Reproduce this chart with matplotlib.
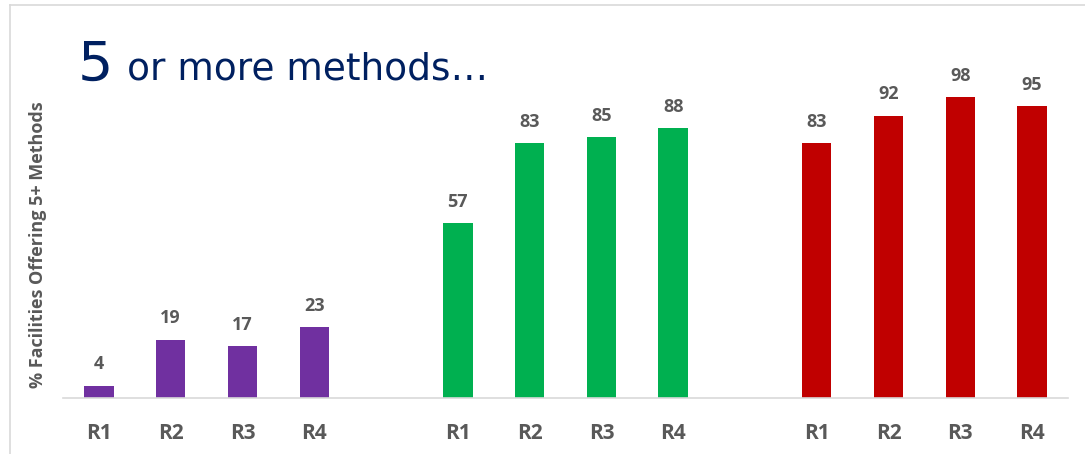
import matplotlib.pyplot as plt

# data
labels = ['R1', 'R2', 'R3', 'R4']
purple_vals = [4, 19, 17, 23]
green_vals = [57, 83, 85, 88]
red_vals = [83, 92, 98, 95]
colors = ['#7030A0', '#00B050', '#C00000']
group_starts = [0, 5, 10]

fig = plt.figure(figsize=(10.85, 4.54), dpi=100)
ax = fig.add_axes([63/1085, 1-398/454, (1068-63)/1085, (398-91)/454])

ticks = []
ticklabels = []
for start, vals, c in zip(group_starts, [purple_vals, green_vals, red_vals], colors):
    xs = [start + i for i in range(len(vals))]
    ax.bar(xs, vals, width=0.41, color=c, zorder=2)
    for x, v in zip(xs, vals):
        ax.text(x, v + 4, str(v), ha='center', va='bottom', fontsize=13,
                fontweight='bold', color='#595959', family='Open Sans')
    ticks += xs
    ticklabels += labels

ax.set_xlim(-0.5, 13.5)
ax.set_ylim(0, 100)
ax.set_xticks(ticks)
ax.set_xticklabels(ticklabels, fontsize=15, fontweight='bold', color='#595959',
                   family='Open Sans')
ax.tick_params(axis='x', length=0, pad=18)
ax.set_yticks([])
for s in ['top', 'right', 'left']:
    ax.spines[s].set_visible(False)
ax.spines['bottom'].set_color('#D9D9D9')
ax.spines['bottom'].set_linewidth(1.2)

fig.text(38/1085, 1-245/454, '% Facilities Offering 5+ Methods', rotation=90,
         ha='center', va='center', fontsize=13, fontweight='bold',
         color='#595959', family='Open Sans')

# title
fig.text(78/1085, 1-81/454, '5', fontsize=40, color='#002060',
         family='DejaVu Sans', ha='left', va='baseline')
fig.text(127/1085, 1-79/454, 'or more methods…', fontsize=27, color='#002060',
         family='DejaVu Sans', ha='left', va='baseline')

# frame lines
fig.add_artist(plt.Line2D([9.5/1085, 1], [1-4.5/454, 1-4.5/454], color='#D9D9D9', lw=1.2))
fig.add_artist(plt.Line2D([9.5/1085, 9.5/1085], [0, 1-4.5/454], color='#D9D9D9', lw=1.2))

fig.savefig('out.png', dpi=100)
